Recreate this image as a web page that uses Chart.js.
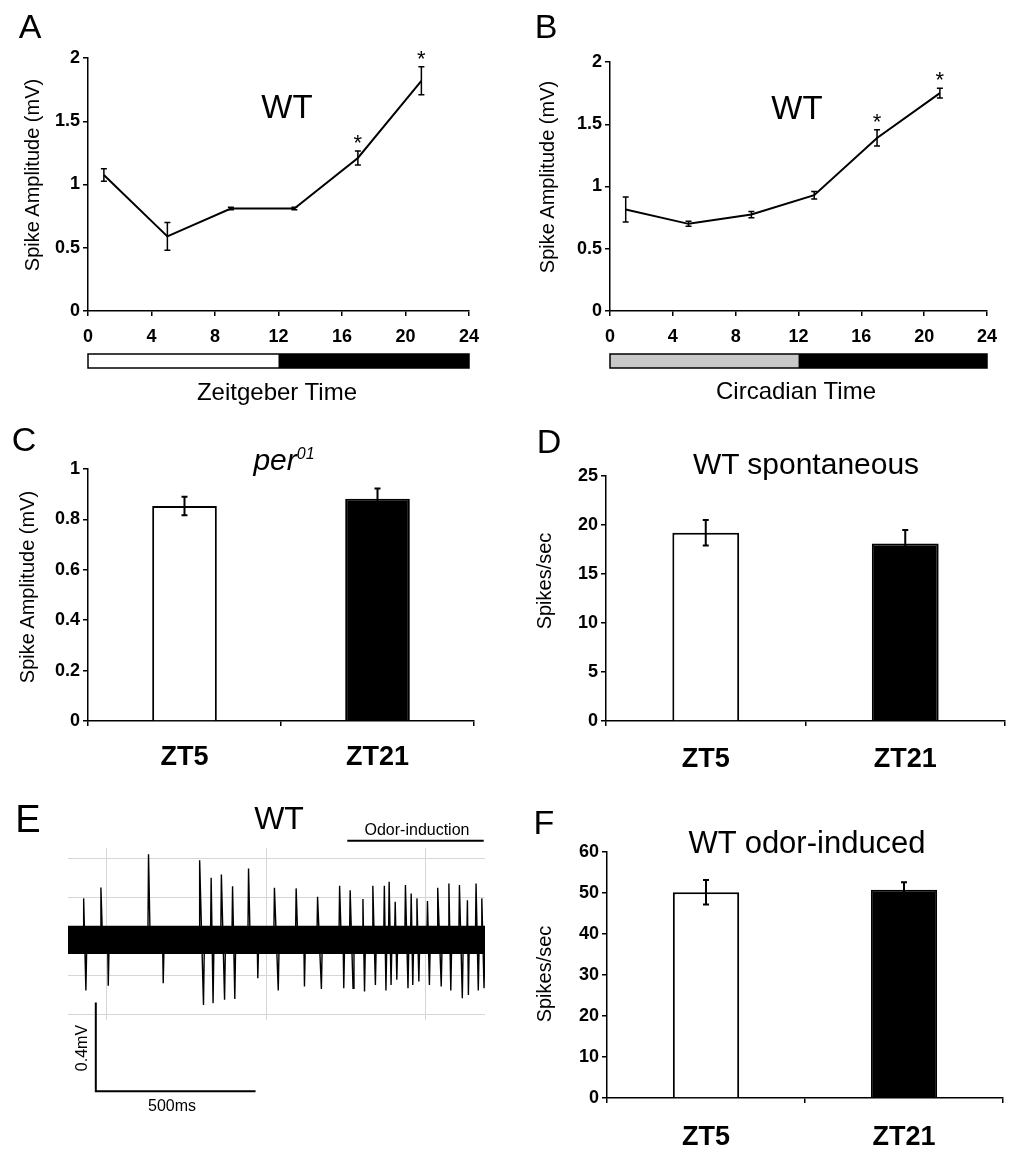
<!DOCTYPE html>
<html>
<head>
<meta charset="utf-8">
<title>Spike amplitude across the day</title>
<script src="https://cdn.jsdelivr.net/npm/chart.js@4.4.1/dist/chart.umd.min.js"></script>
<style>
  html, body { margin: 0; padding: 0; background: #fff; }
  #fig { position: relative; width: 1018px; height: 1163px; overflow: hidden;
         font-family: "Liberation Sans", Arial, sans-serif; color: #000; }
  #fig canvas { position: absolute; left: 0; top: 0; }
  .lbl { position: absolute; white-space: nowrap; line-height: 1; transform: translate(-50%, -50%); }
  .vert { position: absolute; white-space: nowrap; line-height: 1; transform: translate(-50%, -50%) rotate(-90deg); }
</style>
</head>
<body>
<div id="fig">
  <canvas id="chartA" width="1018" height="1163"></canvas>
  <canvas id="chartB" width="1018" height="1163"></canvas>
  <canvas id="chartC" width="1018" height="1163"></canvas>
  <canvas id="chartD" width="1018" height="1163"></canvas>
  <canvas id="chartE" width="1018" height="1163"></canvas>
  <canvas id="chartF" width="1018" height="1163"></canvas>

  <!-- panel letters -->
  <div class="lbl" style="left:30px;top:26px;font-size:34px">A</div>
  <div class="lbl" style="left:546px;top:26px;font-size:34px">B</div>
  <div class="lbl" style="left:24px;top:439px;font-size:34px">C</div>
  <div class="lbl" style="left:549px;top:441px;font-size:34px">D</div>
  <div class="lbl" style="left:28px;top:819px;font-size:38px">E</div>
  <div class="lbl" style="left:544px;top:822px;font-size:34px">F</div>

  <!-- titles and axis captions -->
  <div class="lbl" style="left:287px;top:106px;font-size:33px">WT</div>
  <div class="lbl" style="left:797px;top:107px;font-size:33px">WT</div>
  <div class="lbl" style="left:277px;top:392px;font-size:24px">Zeitgeber Time</div>
  <div class="lbl" style="left:796px;top:391px;font-size:24px">Circadian Time</div>
  <div class="vert" style="left:32px;top:175px;font-size:20px">Spike Amplitude (mV)</div>
  <div class="vert" style="left:547px;top:177px;font-size:20px">Spike Amplitude (mV)</div>
  <div class="vert" style="left:27px;top:587px;font-size:20px">Spike Amplitude (mV)</div>
  <div class="vert" style="left:544px;top:581px;font-size:20px">Spikes/sec</div>
  <div class="vert" style="left:544px;top:974px;font-size:20px">Spikes/sec</div>
  <div class="lbl" style="left:284px;top:460px;font-size:30px;font-style:italic">per<span style="font-size:16px;position:relative;top:-11px">01</span></div>
  <div class="lbl" style="left:806px;top:464px;font-size:30px">WT spontaneous</div>
  <div class="lbl" style="left:807px;top:842px;font-size:31px">WT odor-induced</div>
  <div class="lbl" style="left:279px;top:818px;font-size:32px">WT</div>
  <div class="lbl" style="left:417px;top:830px;font-size:16px">Odor-induction</div>
  <div class="vert" style="left:82px;top:1048px;font-size:16px">0.4mV</div>
  <div class="lbl" style="left:172px;top:1106px;font-size:16px">500ms</div>
</div>

<script>
// ---- panels A / B : spike amplitude over the day ----
const hourTicks = [0, 4, 8, 12, 16, 20, 24];
const ztHours = [1, 5, 9, 13, 17, 21];
const ztAmp = [1.075, 0.59, 0.81, 0.81, 1.21, 1.82];
const ztSem = [0.05, 0.11, 0.01, 0.01, 0.055, 0.11];
const ztSig = [false, false, false, false, true, true];
const ctHours = [1, 5, 9, 13, 17, 21];
const ctAmp = [0.815, 0.70, 0.775, 0.93, 1.39, 1.75];
const ctSem = [0.10, 0.02, 0.025, 0.03, 0.065, 0.04];
const ctSig = [false, false, false, false, true, true];
const phaseStart = [0, 12];
const phaseEnd = [12, 24];
const ldFill = ["#ffffff", "#000000"];
const ddFill = ["#c8c8c8", "#000000"];

// ---- panels C / D / F : ZT5 vs ZT21 ----
const groups = ["ZT5", "ZT21"];
const groupFill = ["#ffffff", "#000000"];
const perAmp = [0.853, 0.882];
const perSem = [0.037, 0.041];
const spontRate = [19.2, 18.1];
const spontSem = [1.3, 1.4];
const odorRate = [50.2, 50.8];
const odorSem = [3.0, 1.8];

// ---- panel E : extracellular trace ----
const spikeUpMs = [429, 483, 632, 792, 828, 860, 895, 945, 1026, 1094, 1161, 1230, 1263, 1303,
  1334, 1370, 1385, 1404, 1436, 1454, 1472, 1505, 1537, 1572, 1605, 1630, 1657, 1675];
const spikeUpMv = [0.183, 0.232, 0.382, 0.355, 0.276, 0.291, 0.238, 0.318, 0.231, 0.228, 0.190, 0.240, 0.220, 0.180,
  0.240, 0.240, 0.258, 0.168, 0.243, 0.205, 0.183, 0.171, 0.231, 0.250, 0.243, 0.175, 0.250, 0.183];
const spikeDownMs = [436, 506, 678, 804, 834, 870, 902, 974, 1038, 1120, 1173, 1243, 1272, 1308,
  1342, 1375, 1391, 1409, 1444, 1459, 1478, 1511, 1548, 1578, 1614, 1633, 1664, 1682];
const spikeDownMv = [-0.232, -0.211, -0.199, -0.297, -0.289, -0.274, -0.270, -0.177, -0.232, -0.214, -0.225, -0.222, -0.222, -0.237,
  -0.207, -0.232, -0.207, -0.184, -0.222, -0.207, -0.192, -0.207, -0.214, -0.232, -0.267, -0.252, -0.232, -0.222];
const noiseBandMv = [0.06, -0.068];
const traceSpanMs = [380, 1685];
const traceGridMs = [500, 1000, 1500];
const traceGridMv = [0.362, 0.187, 0.012, -0.164, -0.339];
const odorWindowMs = [1254, 1681];
const scaleBarMs = 500;
const scaleBarMv = 0.4;

const FONT = '"Liberation Sans", Arial, sans-serif';
Chart.defaults.font.family = FONT;
Chart.defaults.color = "#000";

// padding so that the plot area lands on given page coordinates
function pad(left, top, right, bottom, yW, xH) {
  return { left: left - yW, top: top, right: 1018 - right, bottom: 1163 - bottom - xH };
}

function valueAxis(min, max, step) {
  return {
    type: "linear", min: min, max: max,
    ticks: {
      stepSize: step, color: "#000", padding: 3, font: { size: 18, weight: "bold" },
      callback: (v) => String(Math.round(v * 100) / 100)
    },
    grid: { drawOnChartArea: false, tickLength: 5, color: "#000", lineWidth: 1.5 },
    border: { color: "#000", width: 1.5 },
    afterFit: (s) => { s.width = 60; }
  };
}

function hourAxis() {
  return {
    type: "linear", min: 0, max: 24,
    ticks: { stepSize: 4, color: "#000", padding: 10, font: { size: 18, weight: "bold" } },
    afterBuildTicks: (s) => { s.ticks = hourTicks.map((v) => ({ value: v })); },
    grid: { drawOnChartArea: false, tickLength: 5, color: "#000", lineWidth: 1.5 },
    border: { color: "#000", width: 1.5 },
    afterFit: (s) => { s.height = 40; }
  };
}

function groupAxis(labelPad) {
  return {
    type: "category", offset: true,
    ticks: { color: "#000", padding: labelPad, font: { size: 27, weight: "bold" } },
    grid: { offset: true, drawOnChartArea: false, tickLength: 5, color: "#000", lineWidth: 1.5 },
    border: { color: "#000", width: 1.5 },
    afterFit: (s) => { s.height = 60; }
  };
}

// error bars (and significance stars) drawn through the y scale
function errorBarPlugin(sem, sig, capHalf, lineWidth) {
  return {
    id: "errorBars",
    afterDatasetsDraw(chart) {
      const ctx = chart.ctx;
      const y = chart.scales.y;
      const meta = chart.getDatasetMeta(0);
      const values = chart.data.datasets[0].data;
      ctx.save();
      ctx.strokeStyle = "#000";
      ctx.lineWidth = lineWidth;
      meta.data.forEach((el, i) => {
        const v = typeof values[i] === "object" ? values[i].y : values[i];
        const top = y.getPixelForValue(v + sem[i]);
        const bot = y.getPixelForValue(v - sem[i]);
        ctx.beginPath();
        ctx.moveTo(el.x, top); ctx.lineTo(el.x, bot);
        ctx.moveTo(el.x - capHalf, top); ctx.lineTo(el.x + capHalf, top);
        ctx.moveTo(el.x - capHalf, bot); ctx.lineTo(el.x + capHalf, bot);
        ctx.stroke();
        if (sig && sig[i]) {
          ctx.fillStyle = "#000";
          ctx.font = "22px " + FONT;
          ctx.textAlign = "center";
          ctx.textBaseline = "alphabetic";
          ctx.fillText("*", el.x, top - 1);
        }
      });
      ctx.restore();
    }
  };
}

// light/dark bar under the time axis
function phaseBarPlugin(fills) {
  return {
    id: "phaseBar",
    afterDraw(chart) {
      const x = chart.scales.x, ctx = chart.ctx;
      const y0 = chart.chartArea.bottom + 43, h = 14;
      ctx.save();
      phaseStart.forEach((s, i) => {
        const x0 = x.getPixelForValue(s), x1 = x.getPixelForValue(phaseEnd[i]);
        ctx.fillStyle = fills[i];
        ctx.fillRect(x0, y0, x1 - x0, h);
      });
      const a = x.getPixelForValue(phaseStart[0]);
      const b = x.getPixelForValue(phaseEnd[phaseEnd.length - 1]);
      ctx.strokeStyle = "#000";
      ctx.lineWidth = 1.5;
      ctx.strokeRect(a, y0, b - a, h);
      ctx.restore();
    }
  };
}

function timeCourse(id, hours, amp, sem, sig, fills, area) {
  new Chart(document.getElementById(id), {
    type: "line",
    data: {
      datasets: [{
        data: hours.map((h, i) => ({ x: h, y: amp[i] })),
        borderColor: "#000", borderWidth: 2, pointRadius: 0, tension: 0, fill: false
      }]
    },
    options: {
      responsive: false, animation: false, events: [],
      layout: { padding: pad(area[0], area[1], area[2], area[3], 60, 40) },
      plugins: { legend: { display: false }, tooltip: { enabled: false } },
      scales: { x: hourAxis(), y: valueAxis(0, 2, 0.5) }
    },
    plugins: [errorBarPlugin(sem, sig, 3, 1.5), phaseBarPlugin(fills)]
  });
}

function groupBars(id, values, sem, min, max, step, labelPad, area) {
  new Chart(document.getElementById(id), {
    type: "bar",
    data: {
      labels: groups,
      datasets: [{
        data: values, backgroundColor: groupFill, borderColor: "#000", borderWidth: 2,
        barPercentage: 0.335, categoryPercentage: 1
      }]
    },
    options: {
      responsive: false, animation: false, events: [],
      layout: { padding: pad(area[0], area[1], area[2], area[3], 60, 60) },
      plugins: { legend: { display: false }, tooltip: { enabled: false } },
      scales: { x: groupAxis(labelPad), y: valueAxis(min, max, step) }
    },
    plugins: [errorBarPlugin(sem, null, 3, 2)]
  });
}

timeCourse("chartA", ztHours, ztAmp, ztSem, ztSig, ldFill, [88, 58, 469, 311]);
timeCourse("chartB", ctHours, ctAmp, ctSem, ctSig, ddFill, [610, 62, 987, 311]);
groupBars("chartC", perAmp, perSem, 0, 1, 0.2, 15, [88, 469, 474, 721]);
groupBars("chartD", spontRate, spontSem, 0, 25, 5, 17, [606, 476, 1005, 721]);
groupBars("chartF", odorRate, odorSem, 0, 60, 10, 18, [607, 852, 1003, 1098]);

// ---- panel E ----
const tracePoints = [{ x: traceSpanMs[0], y: 0 }];
spikeUpMs.forEach((t, i) => {
  tracePoints.push({ x: t - 2, y: 0 });
  tracePoints.push({ x: t, y: spikeUpMv[i] });
  if (spikeDownMs[i] - t > 12) {
    tracePoints.push({ x: t + 5, y: 0 });
    tracePoints.push({ x: spikeDownMs[i] - 2, y: 0 });
  }
  tracePoints.push({ x: spikeDownMs[i], y: spikeDownMv[i] });
  tracePoints.push({ x: spikeDownMs[i] + 3, y: 0 });
});
tracePoints.push({ x: traceSpanMs[1], y: 0 });

function flat(v) {
  return [{ x: traceSpanMs[0], y: v }, { x: traceSpanMs[1], y: v }];
}

const traceMarks = {
  id: "traceMarks",
  afterDraw(chart) {
    const { x, y } = chart.scales;
    const ctx = chart.ctx;
    ctx.save();
    ctx.strokeStyle = "#000";
    ctx.lineWidth = 2;
    // odor stimulus bar
    const oy = y.getPixelForValue(0.443);
    ctx.beginPath();
    ctx.moveTo(x.getPixelForValue(odorWindowMs[0]), oy);
    ctx.lineTo(x.getPixelForValue(odorWindowMs[1]), oy);
    ctx.stroke();
    // scale bar
    const t0 = 467, v0 = -0.686;
    const px0 = x.getPixelForValue(t0), py0 = y.getPixelForValue(v0);
    ctx.beginPath();
    ctx.moveTo(px0, y.getPixelForValue(v0 + scaleBarMv));
    ctx.lineTo(px0, py0);
    ctx.lineTo(x.getPixelForValue(t0 + scaleBarMs), py0);
    ctx.stroke();
    ctx.restore();
  }
};

new Chart(document.getElementById("chartE"), {
  type: "line",
  data: {
    datasets: [
      { data: tracePoints, order: 0, borderColor: "#000", borderWidth: 1.4, pointRadius: 0, tension: 0, fill: false },
      { data: flat(noiseBandMv[0]), order: 1, borderWidth: 0, pointRadius: 0, fill: "+1", backgroundColor: "#000" },
      { data: flat(noiseBandMv[1]), order: 1, borderWidth: 0, pointRadius: 0, fill: false }
    ]
  },
  options: {
    responsive: false, animation: false, events: [],
    layout: { padding: { left: 68, top: 848, right: 1018 - 485, bottom: 1163 - 1020 } },
    plugins: { legend: { display: false }, tooltip: { enabled: false } },
    scales: {
      x: {
        type: "linear", min: traceSpanMs[0], max: traceSpanMs[1],
        afterBuildTicks: (s) => { s.ticks = traceGridMs.map((v) => ({ value: v })); },
        ticks: { display: false },
        grid: { color: "#d6d6d6", lineWidth: 1, drawTicks: false },
        border: { display: false },
        afterFit: (s) => { s.height = 0; }
      },
      y: {
        type: "linear", min: -0.365, max: 0.41,
        afterBuildTicks: (s) => { s.ticks = traceGridMv.map((v) => ({ value: v })); },
        ticks: { display: false },
        grid: { color: "#d6d6d6", lineWidth: 1, drawTicks: false },
        border: { display: false },
        afterFit: (s) => { s.width = 0; }
      }
    }
  },
  plugins: [traceMarks]
});
</script>
</body>
</html>
